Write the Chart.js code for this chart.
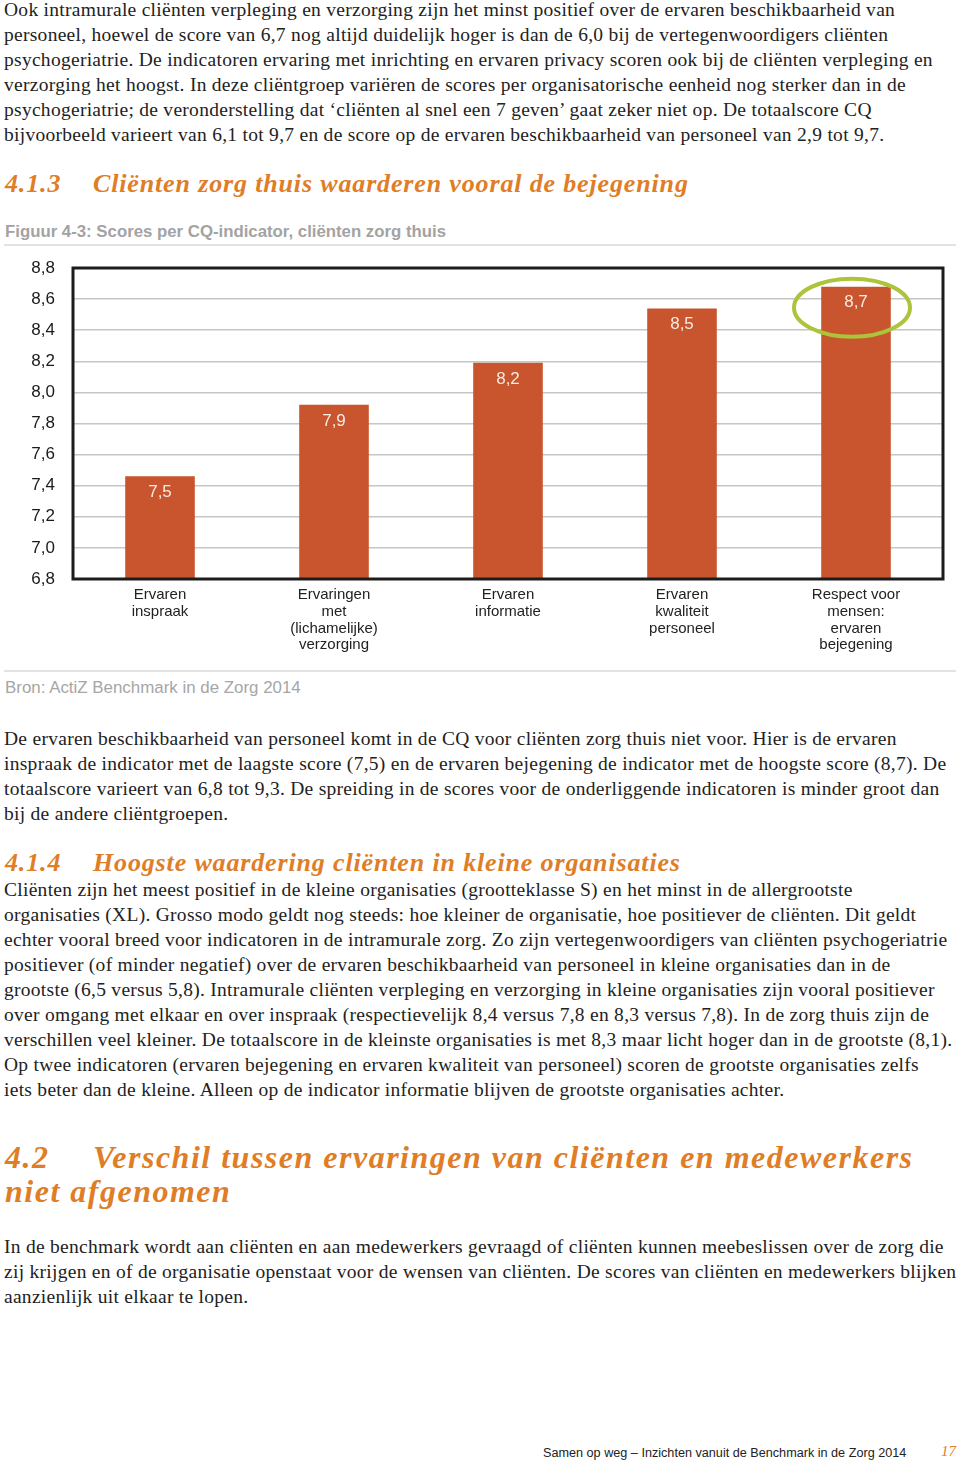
<!DOCTYPE html>
<html lang="nl">
<head>
<meta charset="utf-8">
<title>Figuur 4-3: Scores per CQ-indicator, cliënten zorg thuis</title>
<script src="https://cdn.jsdelivr.net/npm/chart.js@4/dist/chart.umd.min.js"></script>
<style>
  html, body { margin: 0; padding: 0; background: #fff; }
  .page { position: relative; width: 960px; height: 1467px; overflow: hidden; color: #222; }
  .txt { position: absolute; left: 4px; font-family: "Liberation Serif", serif; font-size: 19.5px; letter-spacing: 0.28px; line-height: 25px; }
  .txt div { white-space: nowrap; }
  .kop { position: absolute; left: 5px; font-family: "Liberation Serif", serif; font-weight: bold; font-style: italic; color: #e07d27; white-space: nowrap; }
  .kop .nr { position: absolute; left: 0; }
  .kop .tt { position: absolute; left: 88px; }
  .h3 { font-size: 26px; letter-spacing: 0.85px; height: 30px; }
  .h2 { font-size: 32px; letter-spacing: 1.5px; height: 36px; }
  .caption { position: absolute; left: 5px; top: 222px; font-family: "Liberation Sans", Arial, sans-serif; font-weight: bold; font-size: 16.8px; color: #a3a3a3; white-space: nowrap; }
  .rule { position: absolute; left: 4px; width: 952px; height: 2px; background: #e2e2e2; }
  .bron { position: absolute; left: 5px; top: 678px; font-family: "Liberation Sans", Arial, sans-serif; font-size: 16.9px; color: #a6a6a6; }
  .chartbox { position: absolute; left: 0; top: 250px; width: 960px; height: 415px; }
  .footer { position: absolute; left: 543px; top: 1446px; font-family: "Liberation Sans", Arial, sans-serif; font-size: 12.65px; color: #222; white-space: nowrap; }
  .pagenr { position: absolute; left: 941px; top: 1443px; font-family: "Liberation Serif", serif; font-style: italic; font-size: 15px; color: #e07d27; }
</style>
</head>
<body>
<div class="page">

  <div class="txt" style="top:-3px">
    <div>Ook intramurale cliënten verpleging en verzorging zijn het minst positief over de ervaren beschikbaarheid van</div>
    <div>personeel, hoewel de score van 6,7 nog altijd duidelijk hoger is dan de 6,0 bij de vertegenwoordigers cliënten</div>
    <div>psychogeriatrie. De indicatoren ervaring met inrichting en ervaren privacy scoren ook bij de cliënten verpleging en</div>
    <div>verzorging het hoogst. In deze cliëntgroep variëren de scores per organisatorische eenheid nog sterker dan in de</div>
    <div>psychogeriatrie; de veronderstelling dat ‘cliënten al snel een 7 geven’ gaat zeker niet op. De totaalscore CQ</div>
    <div>bijvoorbeeld varieert van 6,1 tot 9,7 en de score op de ervaren beschikbaarheid van personeel van 2,9 tot 9,7.</div>
  </div>

  <div class="kop h3" style="top:169px">
    <span class="nr">4.1.3</span><span class="tt">Cliënten zorg thuis waarderen vooral de bejegening</span>
  </div>

  <div class="caption">Figuur 4-3: Scores per CQ-indicator, cliënten zorg thuis</div>
  <div class="rule" style="top:244px"></div>

  <div class="chartbox"><canvas id="cq-chart"></canvas></div>

  <div class="rule" style="top:670px"></div>
  <div class="bron">Bron: ActiZ Benchmark in de Zorg 2014</div>

  <div class="txt" style="top:726px">
    <div>De ervaren beschikbaarheid van personeel komt in de CQ voor cliënten zorg thuis niet voor. Hier is de ervaren</div>
    <div>inspraak de indicator met de laagste score (7,5) en de ervaren bejegening de indicator met de hoogste score (8,7). De</div>
    <div>totaalscore varieert van 6,8 tot 9,3. De spreiding in de scores voor de onderliggende indicatoren is minder groot dan</div>
    <div>bij de andere cliëntgroepen.</div>
  </div>

  <div class="kop h3" style="top:848px">
    <span class="nr">4.1.4</span><span class="tt">Hoogste waardering cliënten in kleine organisaties</span>
  </div>

  <div class="txt" style="top:877px">
    <div>Cliënten zijn het meest positief in de kleine organisaties (grootteklasse S) en het minst in de allergrootste</div>
    <div>organisaties (XL). Grosso modo geldt nog steeds: hoe kleiner de organisatie, hoe positiever de cliënten. Dit geldt</div>
    <div>echter vooral breed voor indicatoren in de intramurale zorg. Zo zijn vertegenwoordigers van cliënten psychogeriatrie</div>
    <div>positiever (of minder negatief) over de ervaren beschikbaarheid van personeel in kleine organisaties dan in de</div>
    <div>grootste (6,5 versus 5,8). Intramurale cliënten verpleging en verzorging in kleine organisaties zijn vooral positiever</div>
    <div>over omgang met elkaar en over inspraak (respectievelijk 8,4 versus 7,8 en 8,3 versus 7,8). In de zorg thuis zijn de</div>
    <div>verschillen veel kleiner. De totaalscore in de kleinste organisaties is met 8,3 maar licht hoger dan in de grootste (8,1).</div>
    <div>Op twee indicatoren (ervaren bejegening en ervaren kwaliteit van personeel) scoren de grootste organisaties zelfs</div>
    <div>iets beter dan de kleine. Alleen op de indicator informatie blijven de grootste organisaties achter.</div>
  </div>

  <div class="kop h2" style="top:1139px">
    <span class="nr">4.2</span><span class="tt">Verschil tussen ervaringen van cliënten en medewerkers</span>
  </div>
  <div class="kop h2" style="top:1173px">niet afgenomen</div>

  <div class="txt" style="top:1234px">
    <div>In de benchmark wordt aan cliënten en aan medewerkers gevraagd of cliënten kunnen meebeslissen over de zorg die</div>
    <div>zij krijgen en of de organisatie openstaat voor de wensen van cliënten. De scores van cliënten en medewerkers blijken</div>
    <div>aanzienlijk uit elkaar te lopen.</div>
  </div>

  <div class="footer">Samen op weg – Inzichten vanuit de Benchmark in de Zorg 2014</div>
  <div class="pagenr">17</div>
</div>

<script>
// data
const categories = [
  ['Ervaren', 'inspraak'],
  ['Ervaringen', 'met', '(lichamelijke)', 'verzorging'],
  ['Ervaren', 'informatie'],
  ['Ervaren', 'kwaliteit', 'personeel'],
  ['Respect voor', 'mensen:', 'ervaren', 'bejegening']
];
const scores = [7.46, 7.92, 8.19, 8.54, 8.68];
const yMin = 6.8;
const yMax = 8.8;
const yStep = 0.2;
const highlightIndex = 4; // omcirkelde hoogste score

const komma = v => v.toFixed(1).replace('.', ',');

// waarde in de staaf
const valueLabels = {
  id: 'valueLabels',
  afterDatasetsDraw(chart) {
    const ctx = chart.ctx;
    const meta = chart.getDatasetMeta(0);
    ctx.save();
    ctx.font = '17px "Liberation Sans", Arial, sans-serif';
    ctx.fillStyle = '#f7ebe4';
    ctx.textAlign = 'center';
    ctx.textBaseline = 'middle';
    meta.data.forEach((bar, i) => {
      ctx.fillText(komma(scores[i]), bar.x, bar.y + 16);
    });
    ctx.restore();
  }
};

// zwarte kader om het plotgebied + groene ellips
const frameAndCircle = {
  id: 'frameAndCircle',
  afterDraw(chart) {
    const { ctx, chartArea: a } = chart;
    ctx.save();
    ctx.strokeStyle = '#1c1c1c';
    ctx.lineWidth = 3;
    ctx.strokeRect(a.left, a.top, a.right - a.left, a.bottom - a.top);

    const bar = chart.getDatasetMeta(0).data[highlightIndex];
    ctx.strokeStyle = '#abc43a';
    ctx.lineWidth = 4;
    ctx.beginPath();
    ctx.ellipse(bar.x - 4, bar.y + 21, 58, 29, 0, 0, Math.PI * 2);
    ctx.stroke();
    ctx.restore();
  }
};

const cqChart = new Chart(document.getElementById('cq-chart').getContext('2d'), {
  type: 'bar',
  data: {
    labels: categories,
    datasets: [{
      label: 'Score',
      data: scores,
      backgroundColor: '#c8552d',
      borderWidth: 0,
      categoryPercentage: 1,
      barPercentage: 0.4
    }]
  },
  options: {
    responsive: true,
    maintainAspectRatio: false,
    animation: false,
    layout: { padding: { top: 18, right: 17, left: 0, bottom: 0 } },
    plugins: {
      legend: { display: false },
      tooltip: { enabled: false }
    },
    scales: {
      x: {
        grid: { display: false, drawTicks: false },
        border: { display: false },
        ticks: {
          color: '#222',
          padding: 7,
          maxRotation: 0,
          autoSkip: false,
          font: { family: '"Liberation Sans", Arial, sans-serif', size: 15, lineHeight: 1.13 }
        },
        afterFit(scale) { scale.height = 86; }
      },
      y: {
        min: yMin,
        max: yMax,
        grid: { color: '#c6c6c6', lineWidth: 1.5, drawTicks: false },
        border: { display: false },
        ticks: {
          stepSize: yStep,
          color: '#1a1a1a',
          padding: 18,
          font: { family: '"Liberation Sans", Arial, sans-serif', size: 17 },
          callback: v => komma(v)
        },
        afterFit(scale) {
          scale.width = 73;
          scale.paddingTop = 0;
          scale.paddingBottom = 0;
        }
      }
    }
  },
  plugins: [valueLabels, frameAndCircle]
});
</script>
</body>
</html>
